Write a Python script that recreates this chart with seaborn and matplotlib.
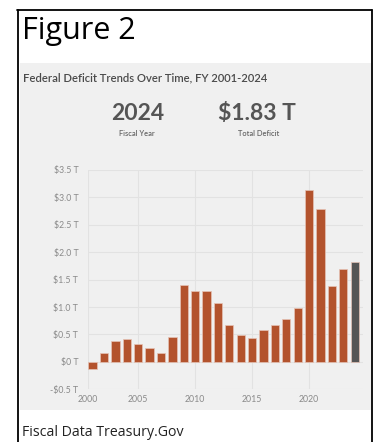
import matplotlib
matplotlib.use("Agg")
import matplotlib.pyplot as plt
from matplotlib.lines import Line2D
from matplotlib.patches import Rectangle
import seaborn as sns
import pandas as pd

years = list(range(2001, 2025))
deficits = [-0.13, 0.16, 0.38, 0.41, 0.32, 0.25, 0.16, 0.46, 1.41, 1.29, 1.30, 1.08,
            0.68, 0.49, 0.44, 0.59, 0.67, 0.78, 0.98, 3.13, 2.78, 1.38, 1.70, 1.83]
kinds = ["past"] * 23 + ["current"]
y_ticks = [-0.5, 0, 0.5, 1.0, 1.5, 2.0, 2.5, 3.0, 3.5]
y_labels = ["-$0.5 T", "$0 T", "$0.5 T", "$1.0 T", "$1.5 T", "$2.0 T", "$2.5 T", "$3.0 T", "$3.5 T"]
x_labels = ["2000", "2005", "2010", "2015", "2020"]

sns.set_style("white")
plt.rcParams["font.family"] = ["Lato", "DejaVu Sans"]

W, H = 376, 442
fig = plt.figure(figsize=(W / 100, H / 100), dpi=100)
fig.patch.set_facecolor("white")

def fx(px):
    return px / W

def fy(py):
    return 1 - py / H

# gray panel
fig.patches.append(Rectangle((fx(20), fy(410)), fx(371) - fx(20), fy(63) - fy(410),
                             transform=fig.transFigure, facecolor="#f0f0f0",
                             edgecolor="none", zorder=-1))
# black frame
for (x0, y0, x1, y1) in [(17.5, 10, 17.5, 442), (17, 10, 372, 10), (371.5, 10, 371.5, 442)]:
    fig.lines.append(Line2D([fx(x0), fx(x1)], [fy(y0), fy(y1)], transform=fig.transFigure,
                            color="black", lw=1.3, zorder=5))

fig.text(fx(22), fy(39.5), "Figure 2", fontsize=22, family=["Open Sans", "DejaVu Sans"],
         color="black", va="baseline", ha="left")
fig.text(fx(23), fy(81.5), "Federal Deficit Trends Over Time, FY 2001-2024", fontsize=8.1,
         color="#4a4a4a", va="baseline", ha="left", fontweight="semibold")
fig.text(fx(138), fy(120.5), "2024", fontsize=16.5, fontweight="bold", color="#555555",
         ha="center", va="baseline")
fig.text(fx(257), fy(120.5), "$1.83 T", fontsize=16.5, fontweight="bold", color="#555555",
         ha="center", va="baseline")
fig.text(fx(137), fy(133.5), "Fiscal Year", fontsize=5.4, color="#666666",
         ha="center", va="center", fontweight="semibold")
fig.text(fx(259), fy(133.5), "Total Deficit", fontsize=5.4, color="#666666",
         ha="center", va="center", fontweight="semibold")
fig.text(fx(22), fy(433), "Fiscal Data Treasury.Gov", fontsize=10.2,
         family=["Open Sans", "DejaVu Sans"], color="#222222", ha="left", va="center")

ax = fig.add_axes([fx(88), fy(389.3), fx(362.7) - fx(88), fy(170) - fy(389.3)])
ax.set_zorder(2)
ax.set_facecolor("#f0f0f0")

df = pd.DataFrame({"year": years, "deficit": deficits, "kind": kinds})
sns.barplot(data=df, x="year", y="deficit", hue="kind", native_scale=True, dodge=False,
            palette={"past": "#b3532d", "current": "#555555"}, width=0.73, saturation=1,
            edgecolor="#e6c3b5", linewidth=0.5, legend=False, ax=ax)

ax.set_xlim(2000.6, 2024.7)
ax.set_ylim(-0.5, 3.5)
ax.set_yticks(y_ticks)
ax.set_yticklabels(y_labels)
ax.set_xticks([2000.6, 2005, 2010, 2015, 2020])
ax.set_xticklabels(x_labels)
ax.grid(True, color="#e2e2e2", lw=0.8)
ax.set_axisbelow(True)
for s in ax.spines.values():
    s.set_visible(False)
ax.tick_params(axis="both", length=0, labelsize=6.3, labelcolor="#8a8a8a")
ax.tick_params(axis="y", pad=7)
ax.tick_params(axis="x", pad=4)
ax.set_xlabel("")
ax.set_ylabel("")

fig.savefig("out.png", dpi=100)
